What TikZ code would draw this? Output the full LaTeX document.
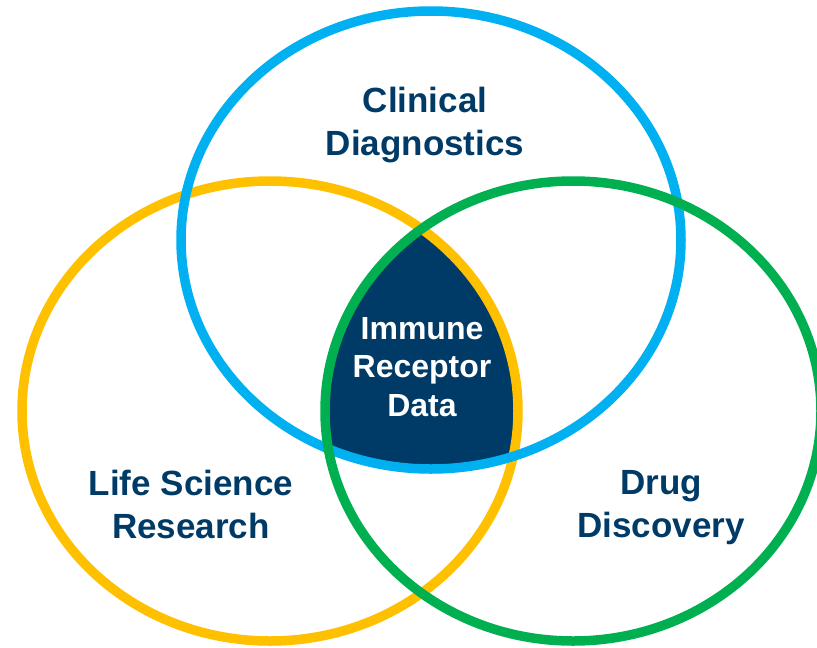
\documentclass[tikz,border=0pt]{standalone}
\usepackage{fontspec}
\setmainfont{Liberation Sans}
\definecolor{navy}{HTML}{003A66}
\definecolor{skyblue}{HTML}{00B0F0}
\definecolor{amber}{HTML}{FFC000}
\definecolor{leafgreen}{HTML}{00B050}
\tikzset{
    field/.style={anchor=north,inner sep=0pt,align=center,text=navy,
        font=\bfseries\fontsize{35}{43}\selectfont},
    core/.style={anchor=north,inner sep=0pt,align=center,text=white,
        font=\bfseries\fontsize{32}{38.5}\selectfont},
    ring/.style={line width=9.5pt}
}
\begin{document}
\begin{tikzpicture}[x=1pt,y=-1pt]
        \useasboundingbox (0,0) rectangle (817,648);
        \coordinate (clin) at (431,240);
        \coordinate (life) at (270,411);
        \coordinate (drug) at (573,411);
        % shared centre
        \begin{scope}
            \clip (life) ellipse [x radius=248pt,y radius=230pt];
            \clip (drug) ellipse [x radius=248pt,y radius=230pt];
            \fill[navy] (clin) ellipse [x radius=250pt,y radius=229pt];
        \end{scope}
        \begin{scope}[every path/.style={ring}]
            \draw[amber] (life) ellipse [x radius=248pt,y radius=230pt];
            \draw[skyblue] (clin) ellipse [x radius=250pt,y radius=229pt];
            \draw[leafgreen] (drug) ellipse [x radius=248pt,y radius=230pt];
        \end{scope}
        \node (cd) [field] at (425,87) {Clinical\\Diagnostics};
        \node (lsr) [field] at (191,470) {Life Science\\Research};
        \node (dd) [field] at (661,470) {Drug\\Discovery};
        \node (ird) [core] at (422,317) {Immune\\Receptor\\Data};
\end{tikzpicture}
\end{document}
